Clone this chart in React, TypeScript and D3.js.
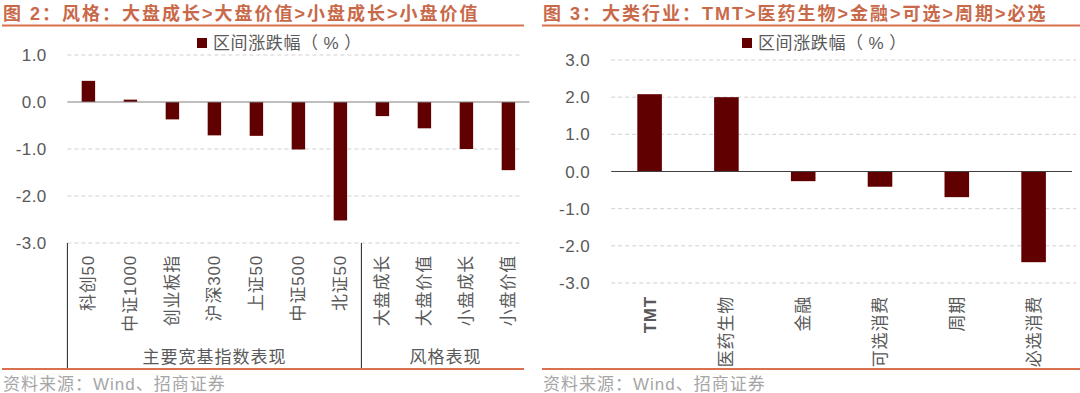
import React from "react";
import * as d3 from "d3";

// left chart: broad indices + style
const leftCats = ["科创50", "中证1000", "创业板指", "沪深300", "上证50", "中证500", "北证50", "大盘成长", "大盘价值", "小盘成长", "小盘价值"];
const leftVals = [0.45, 0.05, -0.37, -0.71, -0.72, -1.01, -2.52, -0.3, -0.56, -1.0, -1.45];
const leftTicks = [1, 0, -1, -2, -3];
const leftGroups = [
  { name: "主要宽基指数表现", from: 0, to: 7 },
  { name: "风格表现", from: 7, to: 11 },
];

// right chart: sectors
const rightCats = ["TMT", "医药生物", "金融", "可选消费", "周期", "必选消费"];
const rightVals = [2.08, 2.0, -0.26, -0.41, -0.69, -2.44];
const rightTicks = [3, 2, 1, 0, -1, -2, -3];

const titleLeft = "图 2：风格：大盘成长>大盘价值>小盘成长>小盘价值";
const titleRight = "图 3：大类行业：TMT>医药生物>金融>可选>周期>必选";
const legendParts = ["区间涨跌幅（", "%", "）"];
const sourceText = "资料来源：Wind、招商证券";

const FONT = "'Liberation Sans', Arial, 'Noto Sans CJK SC', sans-serif";
const TITLE_C = "#C8694A";
const LINE_C = "#D9714E";
const BAR_C = "#600000";
const TEXT_C = "#595959";

const fmt = (t: number) => d3.format(".1f")(t).replace("−", "-");

function Panel({ x0, x1, plotL, plotR, gridR, yTop, yBot, ticks, cats, vals, title, legendX, tickX, labelY, groups, zeroC }) {
  const x = d3.scaleBand().domain(cats).range([plotL, plotR]).padding(0);
  const y = d3.scaleLinear().domain([ticks[ticks.length - 1], ticks[0]]).range([yBot, yTop]);
  const bw = x.step() * 0.32;
  return (
    <g fontFamily={FONT}>
      <text x={x0 + 3} y={20} fontSize={18} fontWeight="bold" fill={TITLE_C} letterSpacing={2}>{title}</text>
      <line x1={x0 + 2} x2={x1} y1={25.5} y2={25.5} stroke={LINE_C} strokeWidth={2} />

      <rect x={legendX} y={38} width={10} height={10} fill={BAR_C} />
      <text x={legendX + 16} y={49} fontSize={17} fill={TEXT_C} letterSpacing={0.6}>
        <tspan>{legendParts[0]}</tspan>
        <tspan dx={5}>{legendParts[1]}</tspan>
        <tspan dx={5}>{legendParts[2]}</tspan>
      </text>

      {ticks.filter(t => t !== 0).map(t => (
        <line key={t} x1={plotL} x2={gridR} y1={y(t)} y2={y(t)} stroke="#D0D0D0" strokeDasharray="4,3" />
      ))}
      {ticks.map(t => (
        <text key={t} x={tickX} y={y(t)} dy="0.36em" textAnchor="end" fontSize={17} fill={TEXT_C} letterSpacing={0.4}>
          {fmt(t)}
        </text>
      ))}

      {cats.map((c, i) => {
        const v = vals[i];
        return (
          <rect key={c} x={x(c) + (x.step() - bw) / 2} width={bw}
            y={y(Math.max(0, v))} height={Math.abs(y(v) - y(0))} fill={BAR_C} />
        );
      })}
      <line x1={plotL} x2={plotR} y1={y(0)} y2={y(0)} stroke={zeroC} strokeWidth={1.2} />

      {cats.map(c => {
        const cx = x(c) + x.step() / 2;
        return (
          <text key={c} transform={`translate(${cx},${labelY}) rotate(-90)`} textAnchor="end" dy="0.35em"
            fontSize={17} fill={TEXT_C} letterSpacing={0.8} fontWeight={c === "TMT" ? "bold" : "normal"}>{c}</text>
        );
      })}

      {groups && groups.map(g => {
        const gl = x(cats[g.from]);
        const gr = g.to < cats.length ? x(cats[g.to]) : plotR;
        return <text key={g.name} x={(gl + gr) / 2} y={357} dy="0.35em" textAnchor="middle" fontSize={17} fill={TEXT_C} letterSpacing={1}>{g.name}</text>;
      })}
      {groups && groups.map(g => (
        <line key={g.name} x1={x(cats[g.from])} x2={x(cats[g.from])} y1={yBot} y2={369} stroke="#222" strokeWidth={1} />
      ))}

      <line x1={x0 + 2} x2={x1} y1={369} y2={369} stroke={LINE_C} strokeWidth={2} />
      <text x={x0 + 3} y={384} dy="0.35em" fontSize={17} fill="#A6A6A6" letterSpacing={1}>{sourceText}</text>
    </g>
  );
}

export default function App() {
  return (
    <svg width={1080} height={393} style={{ position: "absolute", left: 0, top: 0, background: "#fff" }}>
      <Panel x0={0} x1={524} plotL={67.4} plotR={529.4} gridR={522} yTop={55} yBot={243}
        ticks={leftTicks} cats={leftCats} vals={leftVals} title={titleLeft} legendX={197} tickX={46.7}
        labelY={255} groups={leftGroups} zeroC="#7F7F7F" />
      <Panel x0={540} x1={1080} plotL={611.2} plotR={1072} gridR={1076} yTop={60} yBot={283}
        ticks={rightTicks} cats={rightCats} vals={rightVals} title={titleRight} legendX={742} tickX={590}
        labelY={296} groups={null} zeroC="#404040" />
    </svg>
  );
}
